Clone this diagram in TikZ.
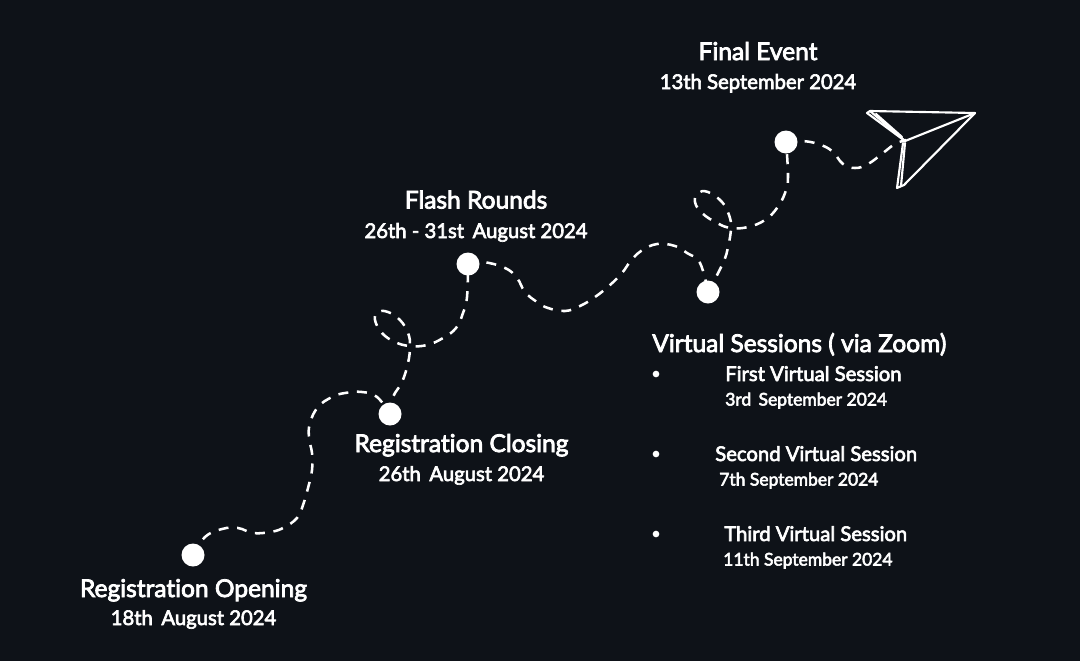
\documentclass[tikz,border=0pt]{standalone}
\usepackage{fontspec}
\setmainfont{Lato}[FakeBold=3.2,Ligatures=NoCommon]
\definecolor{bg}{HTML}{0E1218}
\tikzset{
  x=0.75pt,y=-0.75pt,
  dot/.style={circle,fill=white,draw=none,minimum size=17.25pt,inner sep=0pt},
  route/.style={draw=white,line width=1.9pt,dash pattern=on 7.5pt off 6.5pt},
  plane/.style={draw=white,line width=1.6pt,line join=round,line cap=round},
  title/.style={text=white,font=\fontsize{18.4}{20}\selectfont,inner sep=0pt,anchor=base},
  sub/.style={text=white,font=\fontsize{15.2}{16}\selectfont,inner sep=0pt,anchor=base},
  item/.style={text=white,font=\fontsize{15.2}{17}\selectfont,inner sep=0pt,anchor=base},
  small/.style={text=white,font=\fontsize{13.1}{15}\selectfont,inner sep=0pt,anchor=base},
  bul/.style={circle,fill=white,minimum size=5pt,inner sep=0pt},
}
\begin{document}
\begin{tikzpicture}
\fill[bg] (0,0) rectangle (1080,661);
\useasboundingbox (0,0) rectangle (1080,661);
\coordinate (a) at (193,555);
\coordinate (b) at (390,414);
\coordinate (c) at (468,264);
\coordinate (d) at (708,292);
\coordinate (e) at (786,142);
\coordinate (tail) at (906,140);
\draw[route] plot[smooth,tension=0.7] coordinates {(a) (205,537) (222,529) (238,528) (253,533) (270,532) (283,528) (297,518) (303,505) (308,488) (312,470) (312,453) (309,438) (310,423) (318,407) (332,397) (345,393) (362,392) (377,397) (b)};
\draw[route] plot[smooth,tension=0.7] coordinates {(b) (393,397) (402,382) (408,363) (410,346) (408,333) (400,320) (388,312) (378,312) (375,320) (382,333) (395,342) (410,346) (427,345) (443,338) (456,328) (463,313) (467,297) (c)};
\draw[route] plot[smooth,tension=0.7] coordinates {(c) (483,262) (505,268) (517,278) (525,292) (537,302) (548,308) (565,311) (580,306) (595,297) (610,285) (622,273) (630,262) (641,251) (657,244) (675,246) (687,253) (700,263) (d)};
\draw[route] plot[smooth,tension=0.7] coordinates {(d) (723,263) (728,247) (731,228) (729,215) (722,202) (708,192) (698,193) (695,202) (702,213) (717,223) (731,228) (748,227) (765,220) (777,208) (785,193) (788,177) (e)};
\draw[route] plot[smooth,tension=0.7] coordinates {(e) (802,141) (818,144) (832,151) (843,164) (855,168) (868,164) (883,153) (895,144) (tail)};
\node[dot] (na) at (a) {};
\node[dot] (nb) at (b) {};
\node[dot] (nc) at (c) {};
\node[dot] (nd) at (d) {};
\node[dot] (ne) at (e) {};
\draw[plane] (905,141) -- (867,113) -- (870,111) -- (975,113) -- (904,185) -- (897,188) -- (903,143);
\draw[plane] (905,141) -- (975,113);
\draw[plane] (905,141) -- (870,111);
\draw[plane] (876,114) -- (902,137);
\draw[plane] (905,143) -- (901,186);
\node[title] (t1) at (193.5,597) {Registration Opening};
\node[sub] (s1) at (193.5,625) {18th\, August 2024};
\node[title] (t2) at (461.5,452) {Registration Closing};
\node[sub] (s2) at (461.5,481) {26th\, August 2024};
\node[title] (t3) at (476,208.5) {Flash Rounds};
\node[sub] (s3) at (476,238) {26th - 31st\, August 2024};
\node[title] (t4) at (758,60) {Final Event};
\node[sub] (s4) at (758,89) {13th September 2024};
\node[title,anchor=base west] (t5) at (652,352) {Virtual Sessions ( via Zoom)};
\node[bul] (b1) at (656,374) {};
\node[item,anchor=base west] at (725,381) {First Virtual Session};
\node[small,anchor=base west] at (725,405.5) {3rd\, September 2024};
\node[bul] (b2) at (656,454) {};
\node[item,anchor=base west] at (715,461) {Second Virtual Session};
\node[small,anchor=base west] at (719,485.5) {7th September 2024};
\node[bul] (b3) at (656,534) {};
\node[item,anchor=base west] at (724,541) {Third Virtual Session};
\node[small,anchor=base west] at (723,565.5) {11th September 2024};
\end{tikzpicture}
\end{document}
